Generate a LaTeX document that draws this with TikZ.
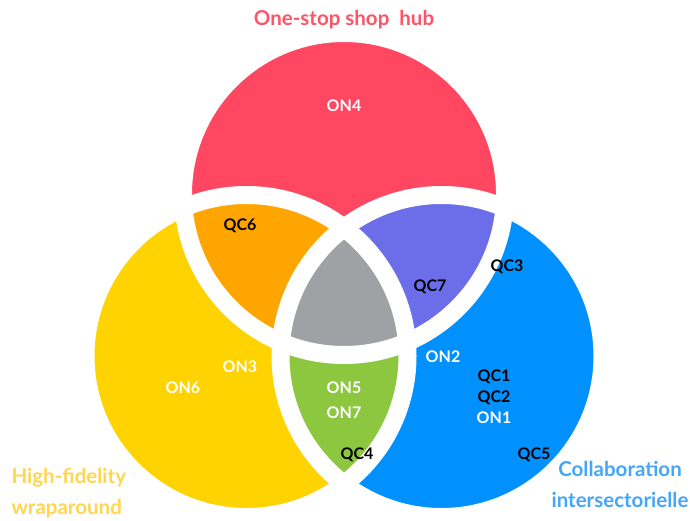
\documentclass[tikz,border=0pt]{standalone}
\usepackage{fontspec}
\setmainfont{Lato}
\usetikzlibrary{positioning}
\definecolor{hubred}{HTML}{FF4762}
\definecolor{wrapyellow}{HTML}{FFD300}
\definecolor{collabblue}{HTML}{0091FF}
\definecolor{hubwrap}{HTML}{FFA500}
\definecolor{hubcollab}{HTML}{6B6EE8}
\definecolor{wrapcollab}{HTML}{8DC63F}
\definecolor{allthree}{HTML}{A0A1A5}
\definecolor{hubtitle}{HTML}{FF5466}
\definecolor{wraptitle}{HTML}{FFD650}
\definecolor{collabtitle}{HTML}{45A6F5}

\begin{document}
\begin{tikzpicture}[x=1pt,y=-1pt,
  on/.style={text=white,font=\fontsize{16}{19}\selectfont\bfseries},
  qc/.style={text=black,font=\fontsize{16}{19}\selectfont\bfseries},
  settitle/.style={font=\fontsize{20.5}{31}\selectfont\bfseries},
  gap/.style={draw=white,line width=18}]
  \useasboundingbox (0,0) rectangle (690,520);
  % circle centres
  \coordinate (hub) at (344,194);
  \coordinate (wrap) at (246.5,356);
  \coordinate (collab) at (441.5,356);
  % sets
  \fill[hubred] (hub) circle[radius=161];
  \fill[wrapyellow] (wrap) circle[radius=161];
  \fill[collabblue] (collab) circle[radius=161];
  \begin{scope}
    \clip (wrap) circle[radius=161];
    \fill[wrapcollab] (collab) circle[radius=161];
  \end{scope}
  \begin{scope}
    \clip (hub) circle[radius=161];
    \fill[hubwrap] (wrap) circle[radius=161];
    \fill[hubcollab] (collab) circle[radius=161];
    \clip (wrap) circle[radius=161];
    \fill[allthree] (collab) circle[radius=161];
  \end{scope}
  % white gaps
  \draw[gap] (hub) circle[radius=161];
  \draw[gap] (wrap) circle[radius=161];
  \draw[gap] (collab) circle[radius=161];
  % titles
  \node (hubname) [settitle,text=hubtitle] at (344,20) {One-stop shop\ \ hub};
  \node (wrapname) [settitle,text=wraptitle,align=left,anchor=west] at (8,493)
    {High-fidelity\\wraparound};
  \node (collabname) [settitle,text=collabtitle,align=center] at (620,484)
    {Collaboration\\intersectorielle};
  % labels
  \node (on4) [on] at (344,106) {ON4};
  \node (qc6) [qc] at (240,226) {QC6};
  \node (qc7) [qc] at (430,287) {QC7};
  \node (qc3) [qc] at (507,267) {QC3};
  \node (on2) [on] at (443,357) {ON2};
  \node (qc1) [qc] at (494,377) {QC1};
  \node (qc2) [qc,below=0pt of qc1] {QC2};
  \node (on1) [on,below=0pt of qc2] {ON1};
  \node (qc5) [qc] at (534,455) {QC5};
  \node (on3) [on] at (240,367) {ON3};
  \node (on6) [on] at (183,388) {ON6};
  \node (on5) [on] at (344,388) {ON5};
  \node (on7) [on] at (344,413) {ON7};
  \node (qc4) [qc] at (357,455) {QC4};
\end{tikzpicture}
\end{document}
